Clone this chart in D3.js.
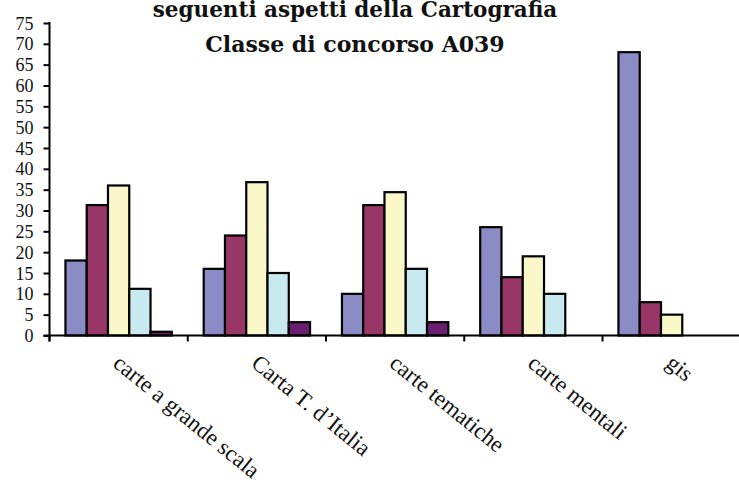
<!DOCTYPE html>
<html>
<head>
<meta charset="utf-8">
<script src="https://cdn.jsdelivr.net/npm/d3@7"></script>
<style>
  html, body { margin: 0; padding: 0; background: #fff; }
  svg { display: block; }
</style>
</head>
<body>
<svg id="chart" width="739" height="484"></svg>
<script>
// Categories on the x axis
const categories = ["carte a grande scala", "Carta T. d\u2019Italia", "carte tematiche", "carte mentali", "gis"];
// Five response series (one bar each per category)
const seriesKeys = ["serie 1", "serie 2", "serie 3", "serie 4", "serie 5"];
const serie1 = [18, 16, 10, 26, 68];
const serie2 = [31.3, 24, 31.3, 14, 8];
const serie3 = [36, 36.8, 34.4, 19, 5];
const serie4 = [11.2, 15, 16, 10, 0];
const serie5 = [0.9, 3.2, 3.2, 0, 0];
const seriesValues = [serie1, serie2, serie3, serie4, serie5];
const seriesColors = ["#8b8bc5", "#983667", "#faf8c8", "#c9e9f1", "#6a1f70"];
// Y axis ticks
const yTicks = d3.range(0, 80, 5);
const titleLines = ["seguenti aspetti della Cartografia", "Classe di concorso A039"];

const W = 739, H = 484;
const plot = { left: 49.5, right: 740.75, top: 23, bottom: 335.5 };

const svg = d3.select("#chart");
svg.append("rect").attr("width", W).attr("height", H).attr("fill", "#fff");

const x0 = d3.scaleBand().domain(categories).range([plot.left, plot.right]).paddingInner(0).paddingOuter(0);
const gap = 1.5; // gap between groups, in bar widths
const unit = x0.bandwidth() / (seriesKeys.length + gap);
const x1 = d3.scaleBand().domain(seriesKeys)
  .range([unit * gap / 2, x0.bandwidth() - unit * gap / 2]).padding(0);
const y = d3.scaleLinear().domain([0, 75]).range([plot.bottom, plot.top]);

// Bars
const rows = categories.map((c, i) => ({ cat: c, vals: seriesKeys.map((k, j) => ({ key: k, v: seriesValues[j][i], color: seriesColors[j] })) }));
const groups = svg.append("g").selectAll("g").data(rows).join("g")
  .attr("transform", d => `translate(${x0(d.cat)},0)`);
groups.selectAll("rect").data(d => d.vals.filter(e => e.v > 0)).join("rect")
  .attr("x", d => x1(d.key))
  .attr("width", x1.bandwidth())
  .attr("y", d => y(d.v))
  .attr("height", d => y(0) - y(d.v))
  .attr("fill", d => d.color)
  .attr("stroke", "#000")
  .attr("stroke-width", 2.2);

// Y axis
const yAxis = d3.axisLeft(y).tickValues(yTicks).tickSize(6).tickPadding(10).tickFormat(d3.format("d"));
const gy = svg.append("g").attr("transform", `translate(${plot.left},0)`).call(yAxis);
gy.select(".domain").remove();
gy.append("line").attr("x1", 0).attr("x2", 0).attr("y1", plot.top - 1).attr("y2", plot.bottom + 6)
  .attr("stroke", "#000").attr("stroke-width", 2);
gy.selectAll(".tick line").attr("stroke", "#000").attr("stroke-width", 2);
gy.selectAll(".tick text")
  .attr("font-family", "'Liberation Serif', 'Times New Roman', serif")
  .attr("font-size", 18).attr("fill", "#111").attr("dy", "0.34em");

// X axis: baseline and ticks at category boundaries
const gx = svg.append("g");
gx.append("line").attr("x1", plot.left - 6).attr("x2", W).attr("y1", y(0)).attr("y2", y(0))
  .attr("stroke", "#000").attr("stroke-width", 2);
const bounds = categories.map(c => x0(c));
gx.selectAll("line.tk").data(bounds).join("line").attr("class", "tk")
  .attr("x1", d => d).attr("x2", d => d)
  .attr("y1", y(0)).attr("y2", y(0) + 6)
  .attr("stroke", "#000").attr("stroke-width", 2);

// Rotated category labels
gx.selectAll("text.cat").data(categories).join("text").attr("class", "cat")
  .attr("transform", d => `translate(${x0(d) + x0.bandwidth() / 2 - 7},${y(0) + 30}) rotate(39)`)
  .attr("text-anchor", "start")
  .attr("font-family", "'Liberation Serif', 'Times New Roman', serif")
  .attr("font-size", 23).attr("fill", "#111")
  .text(d => d);

// Title
svg.append("g").selectAll("text").data(titleLines).join("text")
  .attr("x", 355).attr("y", (d, i) => 16.5 + i * 35.5)
  .attr("text-anchor", "middle")
  .attr("font-family", "'DejaVu Serif', serif")
  .attr("font-weight", "bold")
  .attr("font-size", (d, i) => i === 0 ? 21.5 : 22).attr("fill", "#111")
  .text(d => d);
</script>
</body>
</html>
